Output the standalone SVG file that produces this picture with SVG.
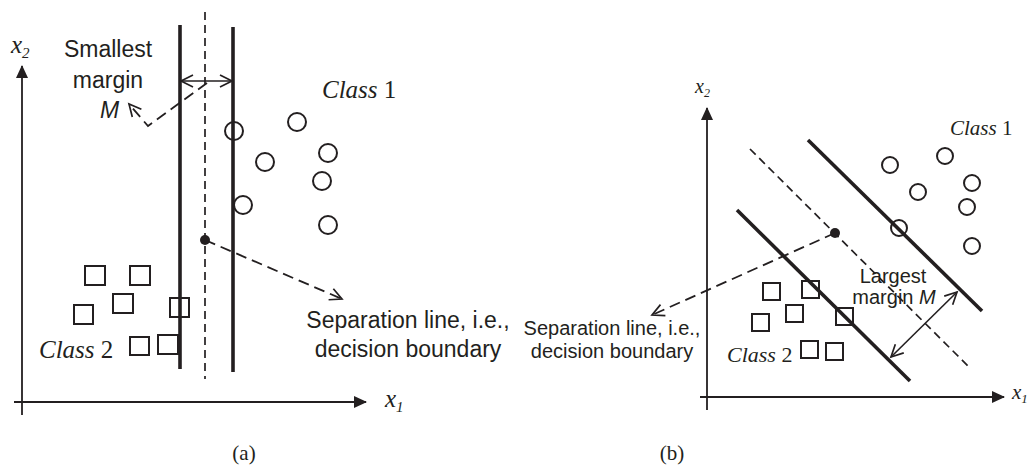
<svg xmlns="http://www.w3.org/2000/svg" width="1030" height="467" viewBox="0 0 1030 467">
<style>
.bg{fill:#ffffff}
.axis{stroke:#231f20;stroke-width:1.8;fill:none}
.thick{stroke:#231f20;stroke-width:3.6;fill:none;stroke-linecap:butt}
.dash{stroke:#231f20;stroke-width:1.7;fill:none;stroke-dasharray:8,5}
.lead{stroke:#231f20;stroke-width:1.8;fill:none;stroke-dasharray:11,6}
.thin{stroke:#231f20;stroke-width:1.6;fill:none}
.circ{fill:none;stroke:#231f20;stroke-width:2}
.sq{fill:none;stroke:#231f20;stroke-width:2}
.sans{font-family:"Liberation Sans",Arial,sans-serif;fill:#231f20}
.serif{font-family:"Liberation Serif","Times New Roman",serif;fill:#231f20}
.it{font-style:italic}
</style>
<defs>
<marker id="axisHead" markerUnits="userSpaceOnUse" markerWidth="14" markerHeight="12" refX="12" refY="6" orient="auto">
<path d="M0,0 L13,6 L0,12 Z" fill="#231f20" stroke="none"/>
</marker>
<marker id="openHead" markerUnits="userSpaceOnUse" markerWidth="16" markerHeight="14" refX="13" refY="7" orient="auto-start-reverse">
<path d="M1,1 L13,7 L1,13" fill="none" stroke="#231f20" stroke-width="1.7" stroke-dasharray="none"/>
</marker>
</defs>
<rect class="bg" x="0" y="0" width="1030" height="467"/>

<g id="connectors">
<line class="axis" x1="22" y1="415" x2="22" y2="66" marker-end="url(#axisHead)"/>
<line class="axis" x1="14" y1="402" x2="366" y2="402" marker-end="url(#axisHead)"/>
<line class="thick" x1="180" y1="25" x2="180" y2="369"/>
<line class="thick" x1="233" y1="27" x2="233" y2="372"/>
<line class="dash" x1="205" y1="12" x2="205" y2="379"/>
<line class="thin" x1="181" y1="81" x2="232" y2="81" marker-start="url(#openHead)" marker-end="url(#openHead)"/>
<polyline class="lead" points="207,83 148,126 129,104" marker-end="url(#openHead)"/>
<line class="lead" x1="205" y1="240" x2="342" y2="299" marker-end="url(#openHead)"/>

<line class="axis" x1="707" y1="410" x2="707" y2="108" marker-end="url(#axisHead)"/>
<line class="axis" x1="700" y1="397" x2="1004" y2="397" marker-end="url(#axisHead)"/>
<line class="thick" x1="808" y1="140" x2="982" y2="311"/>
<line class="thick" x1="737" y1="210" x2="910" y2="381"/>
<line class="dash" x1="750" y1="149" x2="970" y2="368"/>
<line class="thin" x1="891" y1="357" x2="957" y2="292" marker-start="url(#openHead)" marker-end="url(#openHead)"/>
<line class="lead" x1="835" y1="233" x2="652" y2="315" marker-end="url(#openHead)"/>
</g>

<g id="node-a-points">
<circle class="circ" cx="234" cy="131" r="9"/>
<circle class="circ" cx="297" cy="122" r="9"/>
<circle class="circ" cx="265" cy="162" r="9"/>
<circle class="circ" cx="328" cy="153" r="9"/>
<circle class="circ" cx="322" cy="181" r="9"/>
<circle class="circ" cx="243" cy="205" r="9"/>
<circle class="circ" cx="328" cy="225" r="9"/>
<rect class="sq" x="85" y="266" width="20" height="19"/>
<rect class="sq" x="130" y="266" width="20" height="19"/>
<rect class="sq" x="113" y="294" width="20" height="19"/>
<rect class="sq" x="74" y="305" width="19" height="19"/>
<rect class="sq" x="170" y="298" width="19" height="19"/>
<rect class="sq" x="130" y="337" width="19" height="18"/>
<rect class="sq" x="158" y="335" width="20" height="19"/>
<circle cx="205" cy="240" r="5" fill="#231f20"/>
</g>

<g id="node-b-points">
<circle class="circ" cx="890" cy="165" r="8"/>
<circle class="circ" cx="945" cy="156" r="8"/>
<circle class="circ" cx="918" cy="192" r="8"/>
<circle class="circ" cx="972" cy="183" r="8"/>
<circle class="circ" cx="967" cy="207" r="8"/>
<circle class="circ" cx="899" cy="228" r="8"/>
<circle class="circ" cx="972" cy="246" r="8"/>
<rect class="sq" x="763" y="283" width="17" height="17"/>
<rect class="sq" x="802" y="281" width="17" height="17"/>
<rect class="sq" x="786" y="305" width="17" height="17"/>
<rect class="sq" x="752" y="314" width="17" height="17"/>
<rect class="sq" x="836" y="308" width="17" height="17"/>
<rect class="sq" x="801" y="341" width="17" height="17"/>
<rect class="sq" x="826" y="343" width="17" height="17"/>
<circle cx="835" cy="233" r="5" fill="#231f20"/>
</g>

<g id="node-a-labels">
<text class="serif it" x="11" y="53" font-size="25">x<tspan font-size="15" dy="5">2</tspan></text>
<text class="serif it" x="385" y="407" font-size="25">x<tspan font-size="15" dy="5">1</tspan></text>
<text class="sans" x="108" y="57" font-size="23" text-anchor="middle">Smallest</text>
<text class="sans" x="108" y="88" font-size="23" text-anchor="middle">margin</text>
<text class="sans it" x="100" y="118" font-size="23">M</text>
<text class="serif" x="322" y="98" font-size="25"><tspan class="it">Class</tspan> 1</text>
<text class="serif" x="39" y="358" font-size="25"><tspan class="it">Class</tspan> 2</text>
<text class="sans" x="408" y="328" font-size="23" text-anchor="middle">Separation line, i.e.,</text>
<text class="sans" x="408" y="357" font-size="23" text-anchor="middle">decision boundary</text>
<text class="serif" x="244" y="460" font-size="21" text-anchor="middle">(a)</text>
</g>

<g id="node-b-labels">
<text class="serif it" x="695" y="93" font-size="20">x<tspan font-size="12" dy="4">2</tspan></text>
<text class="serif it" x="1012" y="399" font-size="21">x<tspan font-size="13" dy="4">1</tspan></text>
<text class="serif" x="950" y="135" font-size="21"><tspan class="it">Class</tspan> 1</text>
<text class="serif" x="727" y="362" font-size="22"><tspan class="it">Class</tspan> 2</text>
<text class="sans" x="612" y="335" font-size="20" text-anchor="middle">Separation line, i.e.,</text>
<text class="sans" x="612" y="358" font-size="20" text-anchor="middle">decision boundary</text>
<text class="sans" x="893" y="283" font-size="20" text-anchor="middle">Largest</text>
<text class="sans" x="894" y="304" font-size="20" text-anchor="middle">margin <tspan class="it">M</tspan></text>
<text class="serif" x="672" y="460" font-size="21" text-anchor="middle">(b)</text>
</g>
</svg>
